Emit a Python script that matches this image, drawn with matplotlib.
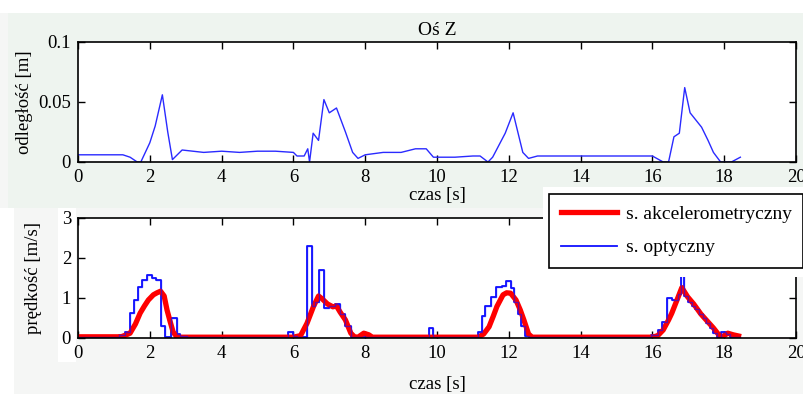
import numpy as np
import matplotlib.pyplot as plt
from matplotlib.patches import Rectangle

# top plot - distance (Z axis)
dist_t = [0, 1.25, 1.45, 1.65, 1.75, 2.0, 2.15, 2.35, 2.5, 2.63, 2.9, 3.2, 3.5, 4.0, 4.5, 5.0, 5.5, 6.0, 6.1, 6.3,
          6.4, 6.45, 6.55, 6.7, 6.85, 7.0, 7.2, 7.45, 7.65, 7.8, 8.0, 8.5, 9.0, 9.4, 9.7, 9.9, 10.5, 11.0, 11.2, 11.42,
          11.55, 11.9, 12.12, 12.39, 12.55, 12.8, 14.0, 15.0, 16.0, 16.3, 16.45, 16.6, 16.75, 16.9, 17.05, 17.37, 17.55,
          17.7, 17.9, 18.2, 18.45]
dist_v = [0.006, 0.006, 0.004, 0.0, 0.0, 0.016, 0.03, 0.056, 0.025, 0.002, 0.010, 0.009, 0.008, 0.009, 0.008, 0.009,
          0.009, 0.008, 0.005, 0.005, 0.011, 0.0, 0.024, 0.018, 0.052, 0.041, 0.045, 0.025, 0.008, 0.003, 0.006, 0.008,
          0.008, 0.011, 0.011, 0.004, 0.004, 0.005, 0.005, 0.0, 0.004, 0.024, 0.041, 0.008, 0.003, 0.005, 0.005, 0.005,
          0.005, 0.0, 0.0, 0.021, 0.024, 0.062, 0.041, 0.029, 0.018, 0.008, 0.0, 0.0, 0.004]

# bottom plot - accelerometer speed
acc_t = [0, 1.2, 1.35, 1.45, 1.6, 1.73, 1.85, 1.96, 2.1, 2.2, 2.3, 2.4, 2.48, 2.57, 2.65, 2.75, 2.85, 6.0, 6.2, 6.38,
         6.56, 6.7, 6.8, 6.95, 7.1, 7.2, 7.3, 7.45, 7.6, 7.7, 7.8, 7.96, 8.1, 8.2, 11.15, 11.3, 11.45, 11.57, 11.67,
         11.84, 11.94, 12.05, 12.2, 12.32, 12.42, 12.55, 12.65, 16.0, 16.15, 16.3, 16.45, 16.54, 16.72, 16.82, 16.98,
         17.15, 17.35, 17.5, 17.7, 17.85, 17.95, 18.1, 18.25, 18.4]
acc_v = [0.03, 0.03, 0.08, 0.12, 0.35, 0.62, 0.8, 0.95, 1.08, 1.13, 1.17, 1.05, 0.7, 0.4, 0.15, 0.03, 0.02, 0.02, 0.06,
         0.37, 0.79, 1.05, 0.98, 0.85, 0.78, 0.8, 0.65, 0.45, 0.12, 0.03, 0.02, 0.12, 0.08, 0.02, 0.02, 0.1, 0.28, 0.55,
         0.79, 1.08, 1.13, 1.12, 0.95, 0.7, 0.45, 0.1, 0.02, 0.02, 0.06, 0.2, 0.45, 0.62, 1.03, 1.26, 1.03, 0.85, 0.6,
         0.45, 0.25, 0.08, 0.03, 0.12, 0.08, 0.05]

# bottom plot - optical speed (step data)
opt_t = [0, 1.15, 1.3, 1.45, 1.55, 1.68, 1.78, 1.92, 2.05, 2.18, 2.3, 2.42, 2.58, 2.75, 2.85, 3.05, 5.85, 6.0, 6.1,
         6.38, 6.52, 6.6, 6.7, 6.85, 7.0, 7.15, 7.3, 7.45, 7.6, 9.78, 9.9, 11.15, 11.25, 11.35, 11.5, 11.65, 11.8,
         11.92, 12.05, 12.15, 12.25, 12.35, 12.45, 12.55, 15.95, 16.15, 16.27, 16.4, 16.55, 16.7, 16.8, 16.88, 17.0,
         17.1, 17.2, 17.3, 17.4, 17.5, 17.6, 17.7, 17.8, 17.9, 18.05, 18.15, 18.45]
opt_v = [0.03, 0.08, 0.15, 0.62, 0.95, 1.27, 1.45, 1.58, 1.5, 1.45, 0.3, 0.02, 0.5, 0.1, 0.05, 0.03, 0.15, 0.05, 0.03,
         2.3, 0.8, 0.9, 1.7, 0.75, 0.8, 0.85, 0.6, 0.3, 0.03, 0.25, 0.03, 0.15, 0.55, 0.8, 1.02, 1.28, 1.3, 1.43, 1.25,
         0.9, 0.6, 0.3, 0.05, 0.03, 0.08, 0.2, 0.4, 1.0, 0.95, 1.1, 2.0, 1.05, 0.9, 0.8, 0.72, 0.6, 0.5, 0.38, 0.25,
         0.12, 0.03, 0.15, 0.1, 0.03, 0.03]

plt.rcParams['font.family'] = ['Liberation Serif', 'DejaVu Serif']
plt.rcParams['font.size'] = 13.5

W, H = 804, 394
fig = plt.figure(figsize=(W / 100, H / 100), dpi=100, facecolor='#f5f6f5')


def frect(l, t, r, b, c, z=-1):
    # rectangle in pixel coords (top-left origin)
    fig.add_artist(Rectangle((l / W, 1 - b / H), (r - l) / W, (b - t) / H, transform=fig.transFigure,
                             facecolor=c, edgecolor='none', zorder=z))


# scanned background bits
frect(0, 0, W, 13, 'white')
frect(8, 13, W, 208, '#eef4ef')
frect(0, 208, 14, 394, 'white')
frect(58, 208, 76, 362, 'white')


def fax(l, t, r, b):
    return fig.add_axes([l / W, 1 - b / H, (r - l) / W, (b - t) / H])


def style(ax, lpad):
    ax.set_xlim(0, 20)
    ax.set_xticks(np.arange(0, 21, 2))
    ax.tick_params(direction='in', top=True, right=True, length=5, width=1, pad=5)
    for s in ax.spines.values():
        s.set_linewidth(1.2)
    ax.set_xlabel("czas [s]", labelpad=lpad)


ax1 = fax(78, 42, 796, 162)
ax1.plot(dist_t, dist_v, color='#2a2aff', lw=1.0)
style(ax1, 1)
ax1.set_ylim(0, 0.1)
ax1.set_yticks([0, 0.05, 0.1])
ax1.set_yticklabels(['0', '0.05', '0.1'])
ax1.set_ylabel("odległość [m]", labelpad=4)
ax1.set_title("Oś Z", fontsize=14, pad=5)

ax2 = fax(78, 218, 796, 338)
l1, = ax2.step(opt_t, opt_v, where='post', color='#1010ff', lw=1.3, label='s. optyczny')
l2, = ax2.plot(acc_t, acc_v, color='#ff0000', lw=3.8, label='s. akcelerometryczny')
ax2.plot(opt_t, opt_v, drawstyle='steps-post', color='#1010ff', lw=1.0, alpha=0.6)
style(ax2, 10)
ax2.set_ylim(0, 3)
ax2.set_yticks([0, 1, 2, 3])
ax2.set_ylabel("prędkość [m/s]", labelpad=14)

frect(543, 187, W, 277, 'white', z=4)
leg = fig.legend([l2, l1], ['s. akcelerometryczny', 's. optyczny'], loc='upper left',
                 bbox_to_anchor=(549 / W, 1 - 194 / H), borderaxespad=0, fancybox=False,
                 edgecolor='black', framealpha=1, handlelength=2.9, handletextpad=0.45,
                 labelspacing=0.8, borderpad=0.6, fontsize=14)
leg.get_frame().set_linewidth(1.2)

plt.savefig("out.png", dpi=100, facecolor=fig.get_facecolor())
